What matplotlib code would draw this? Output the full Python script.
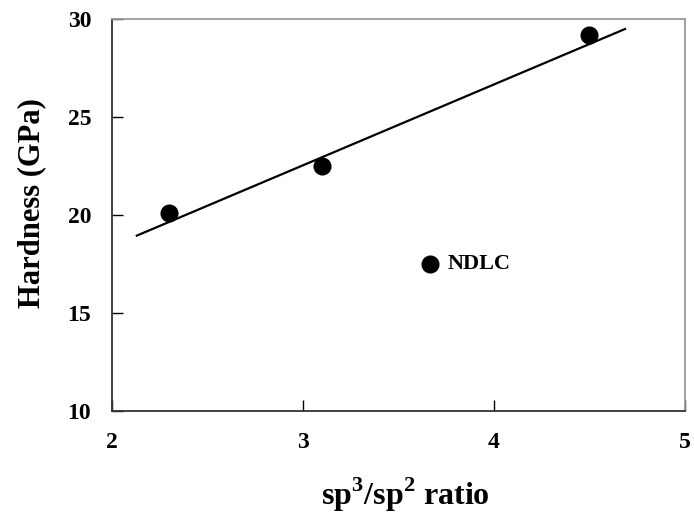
import matplotlib
matplotlib.use("Agg")
import matplotlib.pyplot as plt

plt.rcParams["font.family"] = "Liberation Serif"
plt.rcParams["font.weight"] = "bold"
plt.rcParams["mathtext.fontset"] = "custom"
plt.rcParams["mathtext.rm"] = "Liberation Serif:bold"
plt.rcParams["mathtext.bf"] = "Liberation Serif:bold"

# Data
sp_ratio = [2.30, 3.10, 4.50]
hardness = [20.1, 22.5, 29.2]
ndlc_ratio = [3.665]
ndlc_hardness = [17.47]
fit_x = [2.13, 4.686]
fit_y = [18.94, 29.49]

xticks = [2, 3, 4, 5]
yticks = [10, 15, 20, 25, 30]

fig = plt.figure(figsize=(6.94, 5.22), dpi=100)
ax = fig.add_axes([0.1614, 0.2132, 0.8256, 0.7504])

ax.plot(fit_x, fit_y, color="black", linewidth=1.6, zorder=2)
ax.plot(sp_ratio, hardness, "o", color="black", markersize=12, zorder=3)
ax.plot(ndlc_ratio, ndlc_hardness, "o", color="black", markersize=12, zorder=3)
ax.text(ndlc_ratio[0] + 0.09, ndlc_hardness[0], "NDLC", fontsize=16,
        fontweight="bold", va="center", ha="left")

ax.set_xlim(2, 5)
ax.set_ylim(10, 30)
ax.set_xticks(xticks)
ax.set_yticks(yticks)
ax.tick_params(direction="in", length=8, width=1, labelsize=17, pad=15)

for side in ["left", "bottom"]:
    ax.spines[side].set_color("#333333")
    ax.spines[side].set_linewidth(1.3)
for side in ["top", "right"]:
    ax.spines[side].set_color("#999999")
    ax.spines[side].set_linewidth(1.3)

ax.set_xlabel(r"sp$^{3}$/sp$^{2}$ ratio", fontsize=23, fontweight="bold", va="center")
ax.set_ylabel("Hardness (GPa)", fontsize=22, fontweight="bold", va="center")
ax.xaxis.set_label_coords(0.512, -0.215)
ax.yaxis.set_label_coords(-0.14, 0.53)

fig.savefig("out.png", dpi=100)
